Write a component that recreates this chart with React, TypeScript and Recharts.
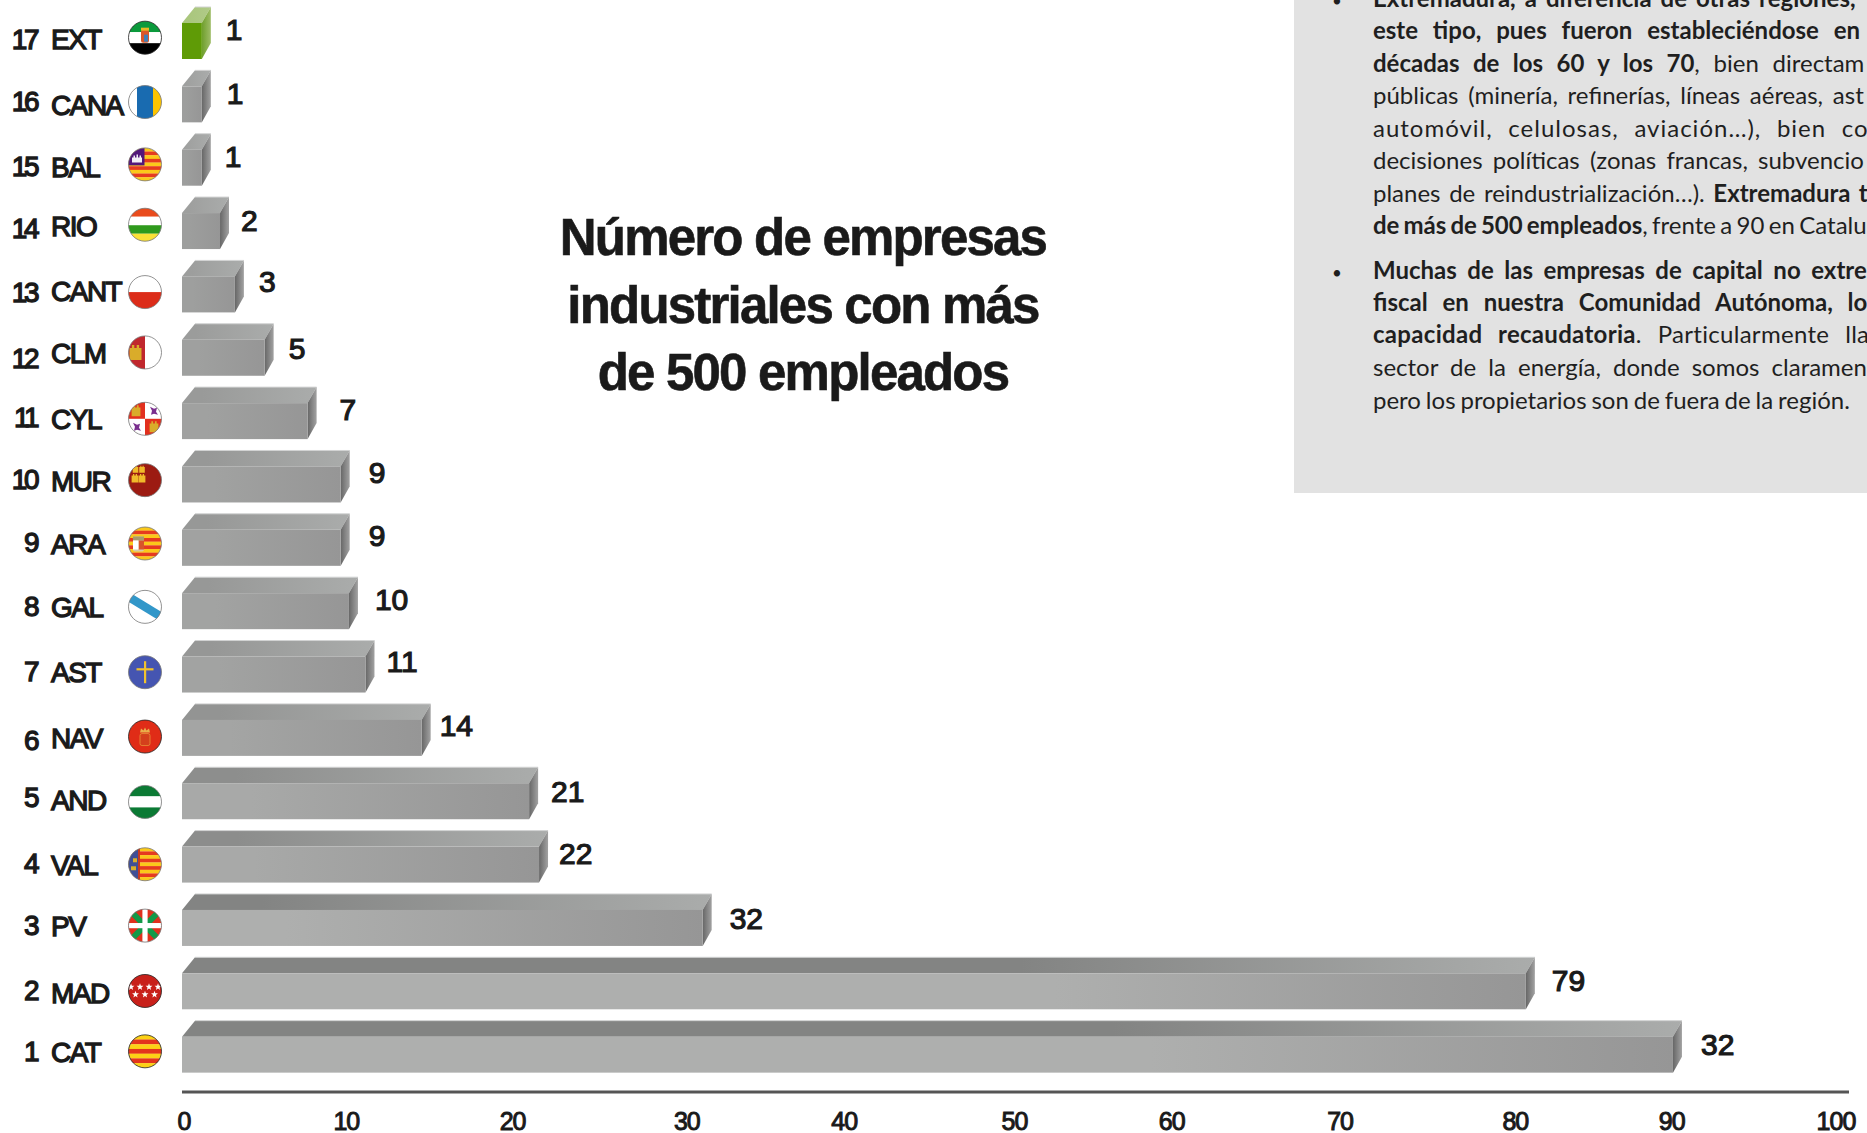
import React from 'react'
import { BarChart, Bar, XAxis, YAxis, LabelList } from 'recharts'

// regions, top of the chart first
const codes = ['EXT', 'CANA', 'BAL', 'RIO', 'CANT', 'CLM', 'CYL', 'MUR', 'ARA', 'GAL', 'AST', 'NAV', 'AND', 'VAL', 'PV', 'MAD', 'CAT']
const ranks = [17, 16, 15, 14, 13, 12, 11, 10, 9, 8, 7, 6, 5, 4, 3, 2, 1]
// bar lengths as drawn
const barLengths = [1.2, 1.2, 1.2, 2.3, 3.2, 5, 7.6, 9.6, 9.6, 10.1, 11.1, 14.5, 21, 21.6, 31.5, 81.3, 90.2]
// numbers printed next to the bars (the last one really says 32 in the source)
const printedValues = ['1', '1', '1', '2', '3', '5', '7', '9', '9', '10', '11', '14', '21', '22', '32', '79', '32']
const xTicks = [0, 10, 20, 30, 40, 50, 60, 70, 80, 90, 100]

const rows = codes.map((code, i) => ({ code, rank: ranks[i], length: barLengths[i], printed: printedValues[i] }))

// the source labels were placed by hand, so they sit a bit off the grid
const xTickNudge = [2, -1, 0, 9, 1, 6, -2, 1, 11, 2, 1]
const rankNudge = [-2, -3, -1, -3, -2, 1, -4, -5, -6, -5, -3, 2, -4, -1, -3, -1, -3]
const codeNudge = [-2, 1, 0, -5, -3, -4, -2, -3, -4, -4, -2, 0, -1, 1, -2, 2, -2]
const flagNudge = [-3, -2, -3, -6, -2, -5, -2, -4, -4, -4, -2, -1, 1, 0, -2, 0, -3]
const labelNudge = [2, 3, 1, -1, 2, 2, 10, 6, 6, 4, -1, -4, 0, -2, 5, 4, 6]
const labelRise = [-1, 0, 0, 0, -2, 2, -1, -1, -1, -1, -2, -1, 1, 0, 2, 0, 1]

const TEXT = '#1a1a1a'
const FONT = '"Liberation Sans", Arial, sans-serif'
const BAR_LEFT_DEPTH = 13
const BAR_RIGHT_DEPTH = 9
const BAR_TOP_DEPTH = 16

const panelLines = [
  { y: 7, ws: 3.2, ls: 0, parts: [{ t: 'Extremadura, a diferencia de otras regiones,', b: true }] },
  { y: 39, ws: 9, ls: 0, parts: [{ t: 'este tipo, pues fueron estableciéndose en', b: true }] },
  { y: 72, ws: 7.6, ls: 0, parts: [{ t: 'décadas de los 60 y los 70', b: true }, { t: ', bien directam', b: false }] },
  { y: 104, ws: 3.6, ls: 0, parts: [{ t: 'públicas (minería, refinerías, líneas aéreas, ast', b: false }] },
  { y: 137, ws: 8.5, ls: 1, parts: [{ t: 'automóvil, celulosas, aviación…), bien co', b: false }] },
  { y: 169, ws: 4, ls: 0, parts: [{ t: 'decisiones políticas (zonas francas, subvencio', b: false }] },
  { y: 202, ws: 2.5, ls: 0, parts: [{ t: 'planes de reindustrialización…). ', b: false }, { t: 'Extremadura t', b: true }] },
  { y: 234, ws: -1.75, ls: 0, parts: [{ t: 'de más de 500 empleados', b: true }, { t: ', frente a 90 en Catalu', b: false }] },
  { y: 279, ws: 4.7, ls: 0, parts: [{ t: 'Muchas de las empresas de capital no extre', b: true }] },
  { y: 311, ws: 9, ls: 0, parts: [{ t: 'fiscal en nuestra Comunidad Autónoma, lo', b: true }] },
  { y: 343, ws: 9.5, ls: 0.3, parts: [{ t: 'capacidad recaudatoria', b: true }, { t: '. Particularmente lla', b: false }] },
  { y: 376, ws: 6, ls: 0, parts: [{ t: 'sector de la energía, donde somos claramen', b: false }] },
  { y: 409, ws: -1.25, ls: 0, parts: [{ t: 'pero los propietarios son de fuera de la región.', b: false }] },
]

const grey = (v: number) => `rgb(${v},${Math.min(255, v + 1)},${v})`
const mix = (a: number, b: number, t: number) => Math.round(a + (b - a) * t)

function Bar3D(props: any) {
  const { x, y, width, height, payload } = props
  const id = payload.code
  const x2 = x + width
  const isExt = id === 'EXT'
  const t = Math.min(1, width / 520)
  const frontStart = grey(mix(156, 174, t))
  const topStart = grey(mix(160, 131, t))
  const topMid = width > 1000 ? 0.62 : 0.15
  const top = `${x},${y} ${x + BAR_LEFT_DEPTH},${y - BAR_TOP_DEPTH} ${x2 + BAR_RIGHT_DEPTH},${y - BAR_TOP_DEPTH} ${x2},${y}`
  const side = `${x2},${y} ${x2 + BAR_RIGHT_DEPTH},${y - BAR_TOP_DEPTH} ${x2 + BAR_RIGHT_DEPTH},${y + height - BAR_TOP_DEPTH} ${x2},${y + height}`
  return (
    <g>
      <defs>
        <linearGradient id={`front-${id}`} x1="0" y1="0" x2="1" y2="0">
          <stop offset="0%" stopColor={isExt ? '#5f9b06' : frontStart} />
          <stop offset={width > 1000 ? '65%' : '20%'} stopColor={isExt ? '#5f9b06' : frontStart} />
          <stop offset="100%" stopColor={isExt ? '#5f9b06' : '#969696'} />
        </linearGradient>
        <linearGradient id={`top-${id}`} x1="0" y1="0" x2="1" y2="0">
          <stop offset="0%" stopColor={isExt ? '#a9c67c' : topStart} />
          <stop offset={`${topMid * 100}%`} stopColor={isExt ? '#a9c67c' : topStart} />
          <stop offset="100%" stopColor={isExt ? '#b0ca88' : '#aaacab'} />
        </linearGradient>
        <linearGradient id={`side-${id}`} x1="0" y1="0" x2="1" y2="0">
          <stop offset="0%" stopColor={isExt ? '#6f9f2c' : '#676767'} />
          <stop offset="100%" stopColor={isExt ? '#9fbd68' : '#a2a2a2'} />
        </linearGradient>
      </defs>
      <polygon points={top} fill={`url(#top-${id})`} />
      <line x1={x + BAR_LEFT_DEPTH} y1={y - BAR_TOP_DEPTH} x2={x2 + BAR_RIGHT_DEPTH} y2={y - BAR_TOP_DEPTH} stroke="#d2d3d3" strokeWidth={1} />
      <polygon points={side} fill={`url(#side-${id})`} />
      <rect x={x} y={y} width={width} height={height} fill={`url(#front-${id})`} />
    </g>
  )
}

function Castle({ x, y, s = 1, fill = '#e9b92f' }: any) {
  const d = `M${x - 4 * s} ${y + 5 * s}V${y - 3 * s}h${1.6 * s}v${-2 * s}h${1.6 * s}v${2 * s}h${1.6 * s}v${-2 * s}h${1.6 * s}v${2 * s}h${1.6 * s}V${y + 5 * s}Z`
  return <path d={d} fill={fill} />
}

function Star({ x, y, r = 3.6 }: any) {
  const pts = [0, 1, 2, 3, 4, 5, 6, 7, 8, 9].map((i) => {
    const a = (Math.PI / 5) * i - Math.PI / 2
    const q = i % 2 ? r * 0.42 : r
    return `${x + q * Math.cos(a)},${y + q * Math.sin(a)}`
  })
  return <polygon points={pts.join(' ')} fill="#fff" />
}

function Stripes({ n, a, b }: any) {
  const h = 33 / n
  return (
    <>
      {Array.from({ length: n }, (_, i) => (
        <rect key={i} x={-17} y={-16.5 + i * h} width={34} height={h + 0.2} fill={i % 2 ? b : a} />
      ))}
    </>
  )
}

const Band = ({ y, h, fill }: any) => <rect x={-17} y={y} width={34} height={h} fill={fill} />

function flagBody(code: string) {
  switch (code) {
    case 'EXT':
      return (
        <>
          <Band y={-17} h={11.5} fill="#0b9a3c" />
          <Band y={-5.5} h={11} fill="#fff" />
          <Band y={5.5} h={12} fill="#000" />
          <rect x={-4} y={-8} width={8} height={13} rx={2} fill="#d9582a" />
          <rect x={-1} y={-3} width={4} height={7} fill="#3f7fb8" />
          <rect x={-4} y={-10} width={8} height={3} fill="#e8b923" />
        </>
      )
    case 'CANA':
      return (
        <>
          <rect x={-17} y={-17} width={34} height={34} fill="#fff" />
          <rect x={-8} y={-17} width={16} height={34} fill="#196bb0" />
          <rect x={8} y={-17} width={9} height={34} fill="#fdc400" />
        </>
      )
    case 'BAL':
      return (
        <>
          <Stripes n={9} a="#fbc91a" b="#e63b1f" />
          <rect x={-17} y={-17} width={16.5} height={18} fill="#52177a" />
          <path d="M-13 -2v-5h1.5v-2h1.5v2h1.5v-3h1.5v3h1.5v-2h1.5v2h1v5z" fill="#f2eef5" />
        </>
      )
    case 'RIO':
      return (
        <>
          <Band y={-17} h={9} fill="#e94b1c" />
          <Band y={-8} h={8.5} fill="#fff" />
          <Band y={0.5} h={8.5} fill="#2f9a1d" />
          <Band y={9} h={8} fill="#fbe136" />
        </>
      )
    case 'CANT':
      return (
        <>
          <Band y={-17} h={17} fill="#fff" />
          <Band y={0} h={17} fill="#dc2c19" />
        </>
      )
    case 'CLM':
      return (
        <>
          <rect x={-17} y={-17} width={34} height={34} fill="#fff" />
          <rect x={-17} y={-17} width={17} height={34} fill="#c0272d" />
          <Castle x={-9.5} y={0} s={1.5} fill="#d9ac2a" />
        </>
      )
    case 'CYL':
      return (
        <>
          <rect x={-17} y={-17} width={34} height={34} fill="#fff" />
          <rect x={-17} y={-17} width={17} height={17} fill="#e2301e" />
          <rect x={0} y={0} width={17} height={17} fill="#e2301e" />
          <Castle x={-9} y={-8} s={1.1} fill="#d9ac2a" />
          <Castle x={9} y={8} s={1.1} fill="#d9ac2a" />
          <path d="M5 -12l4 2 3 -1 -1 4 2 3 -4 -1 -3 1 1 -4z" fill="#7a2f8e" />
          <path d="M-12 4l4 2 3 -1 -1 4 2 3 -4 -1 -3 1 1 -4z" fill="#7a2f8e" />
        </>
      )
    case 'MUR':
      return (
        <>
          <rect x={-17} y={-17} width={34} height={34} fill="#9c1b12" />
          <Castle x={-3} y={-11} s={0.7} fill="#f0b92a" />
          <Castle x={-9.5} y={-11} s={0.7} fill="#f0b92a" />
          <Castle x={-10} y={-2} s={0.85} fill="#f0b92a" />
          <Castle x={-3} y={-2} s={0.85} fill="#f0b92a" />
        </>
      )
    case 'ARA':
      return (
        <>
          <Stripes n={9} a="#fbc91a" b="#e63b1f" />
          <rect x={-12} y={-7} width={11} height={15} rx={2} fill="#d8c9a8" />
          <rect x={-12} y={-7} width={11} height={4} fill="#a89b6e" />
          <rect x={-6.5} y={-3} width={5.5} height={9} fill="#d9542a" />
          <rect x={-12} y={-3} width={5.5} height={9} fill="#fff" />
        </>
      )
    case 'GAL':
      return (
        <>
          <rect x={-17} y={-17} width={34} height={34} fill="#fff" />
          <line x1={-18} y1={-11} x2={18} y2={11} stroke="#3297c9" strokeWidth={8.5} />
        </>
      )
    case 'AST':
      return (
        <>
          <rect x={-17} y={-17} width={34} height={34} fill="#4555b1" />
          <rect x={-1} y={-11} width={2.2} height={22} fill="#f0c22e" />
          <rect x={-8.5} y={-4} width={17} height={2.2} fill="#f0c22e" />
        </>
      )
    case 'NAV':
      return (
        <>
          <rect x={-17} y={-17} width={34} height={34} fill="#e02c17" />
          <rect x={-5} y={-3} width={10} height={12} rx={2} fill="#d4401c" stroke="#e8a13c" strokeWidth={0.7} />
          <path d="M-5 -4l1 -4 2.5 2 1.5 -3 1.5 3 2.5 -2 1 4z" fill="#e8b04a" />
        </>
      )
    case 'AND':
      return (
        <>
          <Band y={-17} h={11.5} fill="#0b7a34" />
          <Band y={-5.5} h={11} fill="#fff" />
          <Band y={5.5} h={12} fill="#0b7a34" />
        </>
      )
    case 'VAL':
      return (
        <>
          <Stripes n={9} a="#fbc91a" b="#e63b1f" />
          <rect x={-17} y={-17} width={11} height={34} fill="#3f4f96" />
          <rect x={-7} y={-17} width={2} height={34} fill="#c63a1f" />
          <rect x={-12} y={-6} width={4} height={4} fill="#d9b02a" />
          <rect x={-14} y={2} width={5} height={4} fill="#d9b02a" />
        </>
      )
    case 'PV':
      return (
        <>
          <rect x={-17} y={-17} width={34} height={34} fill="#e1301d" />
          <line x1={-17} y1={-17} x2={17} y2={17} stroke="#129a48" strokeWidth={6} />
          <line x1={17} y1={-17} x2={-17} y2={17} stroke="#129a48" strokeWidth={6} />
          <rect x={-2.6} y={-17} width={5.2} height={34} fill="#fff" />
          <rect x={-17} y={-2.6} width={34} height={5.2} fill="#fff" />
        </>
      )
    case 'MAD':
      return (
        <>
          <rect x={-17} y={-17} width={34} height={34} fill="#c8201a" />
          <Star x={-14} y={-4} />
          <Star x={-5} y={-4} />
          <Star x={4} y={-4} />
          <Star x={13} y={-4} />
          <Star x={-9.5} y={3.5} />
          <Star x={0} y={3.5} />
          <Star x={9.5} y={3.5} />
        </>
      )
    default:
      return <Stripes n={7} a="#fcd116" b="#e3341d" />
  }
}

const darkRim = ['EXT', 'NAV', 'MAD', 'CAT']

function Flag({ code, cx, cy }: any) {
  return (
    <g transform={`translate(${cx},${cy})`}>
      <clipPath id={`flag-${code}`}>
        <circle r={16.5} />
      </clipPath>
      <g clipPath={`url(#flag-${code})`}>{flagBody(code)}</g>
      <circle r={16.5} fill="none" stroke={darkRim.includes(code) ? '#222' : '#777'} strokeWidth={0.8} />
    </g>
  )
}

function RegionTick(props: any) {
  const { y, index, payload } = props
  const code = payload.value
  const i = index
  return (
    <g>
      <g fontFamily={FONT} fontSize={28} fill={TEXT} stroke={TEXT} strokeWidth={1.3}>
        <text x={36} y={y + 10 + rankNudge[i]} textAnchor="end" letterSpacing={-3.5}>
          {ranks[i]}
        </text>
        <text x={51} y={y + 10 + codeNudge[i]} letterSpacing={-1.5}>
          {code}
        </text>
      </g>
      <Flag code={code} cx={145} cy={y + flagNudge[i]} />
    </g>
  )
}

function ValueTick(props: any) {
  const { x, y, index, payload } = props
  return (
    <text x={x + xTickNudge[index]} y={y + 30} textAnchor="middle" fontFamily={FONT} fontSize={25} letterSpacing={-1} fill={TEXT} stroke={TEXT} strokeWidth={1}>
      {payload.value}
    </text>
  )
}

function PrintedValue(props: any) {
  const { x, y, width, index, value } = props
  return (
    <text x={x + width + 22 + labelNudge[index]} y={y + 17.5 + labelRise[index]} fontFamily={FONT} fontSize={30} fill={TEXT} stroke={TEXT} strokeWidth={1.2}>
      {value}
    </text>
  )
}

export default function App() {
  return (
    <div style={{ position: 'absolute', left: 0, top: 0, width: 1867, height: 1133, background: '#fff', overflow: 'hidden' }}>
      <svg width={1867} height={1133} style={{ position: 'absolute', left: 0, top: 0 }}>
        <rect x={1294} y={0} width={573} height={493} fill="#e2e2e2" />
        <g fontFamily='Lato, "Open Sans", sans-serif' fontSize={24} fill="#1f1f1f">
          {panelLines.map((line) => (
            <text key={line.y} x={1373} y={line.y} wordSpacing={line.ws} letterSpacing={line.ls}>
              {line.parts.map((p) => (
                <tspan key={p.t} fontWeight={p.b ? 700 : 400}>
                  {p.t}
                </tspan>
              ))}
            </text>
          ))}
          <text x={1337} y={7} textAnchor="middle" fontSize={17}>•</text>
          <text x={1337} y={279} textAnchor="middle" fontSize={17}>•</text>
        </g>
        <g fontFamily={FONT} fontSize={51} fontWeight={700} fill={TEXT} stroke={TEXT} strokeWidth={0.6} textAnchor="middle" letterSpacing={-1.8}>
          <text x={803} y={255}>Número de empresas</text>
          <text x={803} y={323}>industriales con más</text>
          <text x={803} y={390}>de 500 empleados</text>
        </g>
      </svg>
      <div style={{ position: 'absolute', left: 0, top: 0 }}>
        <BarChart
          width={1867}
          height={1133}
          data={rows}
          layout="vertical"
          margin={{ top: 9, right: 18, bottom: 0, left: 0 }}
        >
          <XAxis
            type="number"
            domain={[0, 100.85]}
            ticks={xTicks}
            height={41}
            interval={0}
            axisLine={{ stroke: '#555555', strokeWidth: 3 }}
            tickLine={false}
            tick={<ValueTick />}
          />
          <YAxis
            type="category"
            dataKey="code"
            width={182}
            interval={0}
            axisLine={false}
            tickLine={false}
            padding={{ top: 0, bottom: 6 }}
            tick={<RegionTick />}
          />
          <Bar dataKey="length" barSize={36} isAnimationActive={false} shape={<Bar3D />}>
            <LabelList dataKey="printed" content={<PrintedValue />} />
          </Bar>
        </BarChart>
      </div>
    </div>
  )
}
